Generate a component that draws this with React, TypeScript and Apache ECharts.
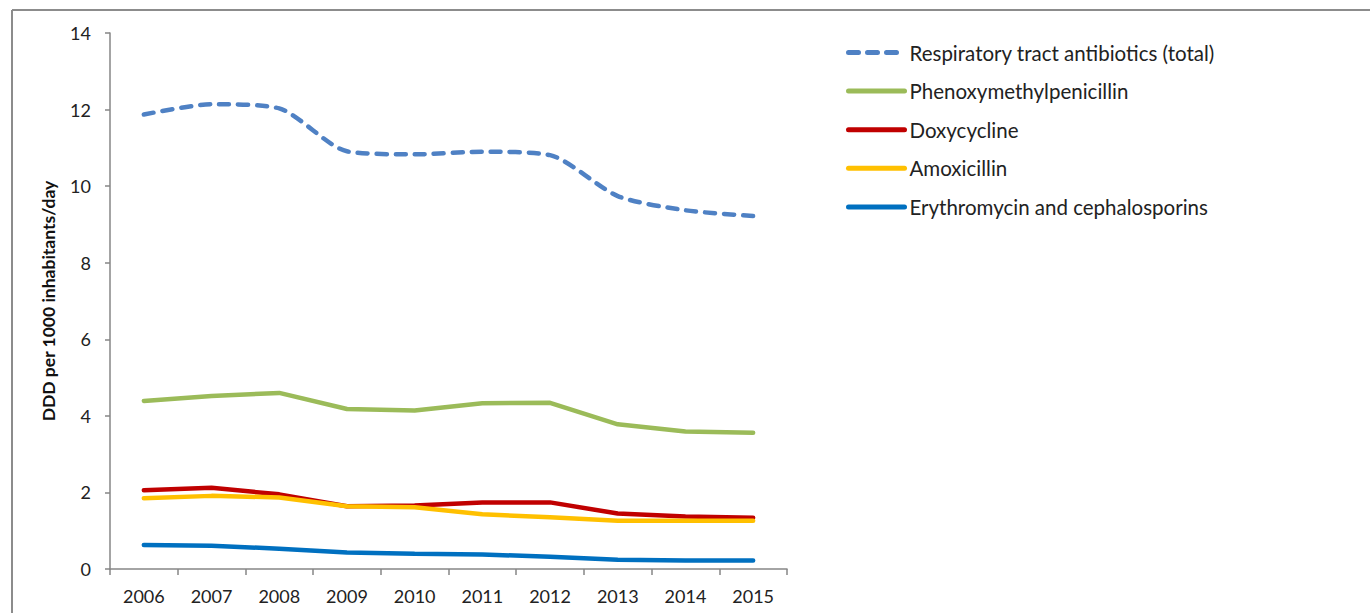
import React, { useEffect, useRef } from "react";
import * as echarts from "echarts";

const years = ["2006", "2007", "2008", "2009", "2010", "2011", "2012", "2013", "2014", "2015"];
const totalRespiratory = [11.87, 12.14, 12.03, 10.91, 10.83, 10.9, 10.81, 9.74, 9.37, 9.22];
const phenoxymethylpenicillin = [4.39, 4.52, 4.6, 4.18, 4.14, 4.33, 4.34, 3.78, 3.59, 3.56];
const doxycycline = [2.06, 2.12, 1.95, 1.64, 1.66, 1.74, 1.74, 1.45, 1.37, 1.34];
const amoxicillin = [1.85, 1.91, 1.87, 1.64, 1.61, 1.43, 1.35, 1.26, 1.26, 1.26];
const erythromycin = [0.63, 0.61, 0.53, 0.43, 0.4, 0.38, 0.32, 0.24, 0.22, 0.22];
const seriesNames = [
  "Respiratory tract antibiotics (total)",
  "Phenoxymethylpenicillin",
  "Doxycycline",
  "Amoxicillin",
  "Erythromycin and cephalosporins",
];
const yTicks = { min: 0, max: 14, interval: 2 };

export default function App() {
  const ref = useRef<HTMLDivElement>(null);
  useEffect(() => {
    if (!ref.current) return;
    const chart = echarts.init(ref.current, undefined, { renderer: "svg" });
    const font = "Lato, 'Open Sans', sans-serif";
    const mk = (name: string, data: number[], color: string, extra: any = {}) => ({
      name,
      type: "line",
      data,
      symbol: "none",
      lineStyle: { color, width: 4.5, cap: "round", ...(extra.lineStyle || {}) },
      itemStyle: { color },
      smooth: extra.smooth ?? false,
    });
    chart.setOption({
      animation: false,
      textStyle: { fontFamily: font },
      grid: { left: 110, top: 33, right: 583, bottom: 44 },
      legend: {
        orient: "vertical",
        left: 841,
        top: 37,
        itemWidth: 56,
        itemHeight: 20,
        itemGap: 17.6,
        itemStyle: { opacity: 0 },
        lineStyle: { width: 5, cap: "round" },
        textStyle: { fontSize: 20.5, color: "#222", fontFamily: font, padding: [0, 0, 0, 0] },
        data: seriesNames,
      },
      xAxis: {
        type: "category",
        data: years,
        boundaryGap: true,
        axisLine: { lineStyle: { color: "#868686", width: 1.5 } },
        axisTick: { show: true, length: 6, lineStyle: { color: "#868686", width: 1.5 } },
        axisLabel: { fontSize: 18, color: "#222", margin: 18, fontFamily: font },
      },
      yAxis: {
        type: "value",
        min: yTicks.min,
        max: yTicks.max,
        interval: yTicks.interval,
        name: "DDD per 1000 inhabitants/day",
        nameLocation: "middle",
        nameGap: 53,
        nameTextStyle: { fontSize: 17.5, fontWeight: "bold", color: "#111", fontFamily: font },
        axisLine: { show: true, lineStyle: { color: "#868686", width: 1.5 } },
        axisTick: { show: true, length: 5, lineStyle: { color: "#868686", width: 1.5 } },
        axisLabel: { fontSize: 18, color: "#222", margin: 19, fontFamily: font },
        splitLine: { show: false },
      },
      graphic: [
        { type: "line", shape: { x1: 12, y1: 10, x2: 12, y2: 613 }, style: { stroke: "#8c8c8c", lineWidth: 2 } },
        { type: "line", shape: { x1: 12, y1: 10, x2: 1370, y2: 10 }, style: { stroke: "#8c8c8c", lineWidth: 2 } },
      ],
      series: [
        mk(seriesNames[0], totalRespiratory, "#4f81c4", { lineStyle: { type: [10, 9] }, smooth: 0.25 }),
        mk(seriesNames[1], phenoxymethylpenicillin, "#9bbb59"),
        mk(seriesNames[2], doxycycline, "#c00000"),
        mk(seriesNames[3], amoxicillin, "#ffc000"),
        mk(seriesNames[4], erythromycin, "#0070c0"),
      ],
    });
    return () => chart.dispose();
  }, []);
  return (
    <div
      ref={ref}
      style={{ position: "fixed", left: 0, top: 0, width: 1370, height: 613, background: "#fff" }}
    />
  );
}
